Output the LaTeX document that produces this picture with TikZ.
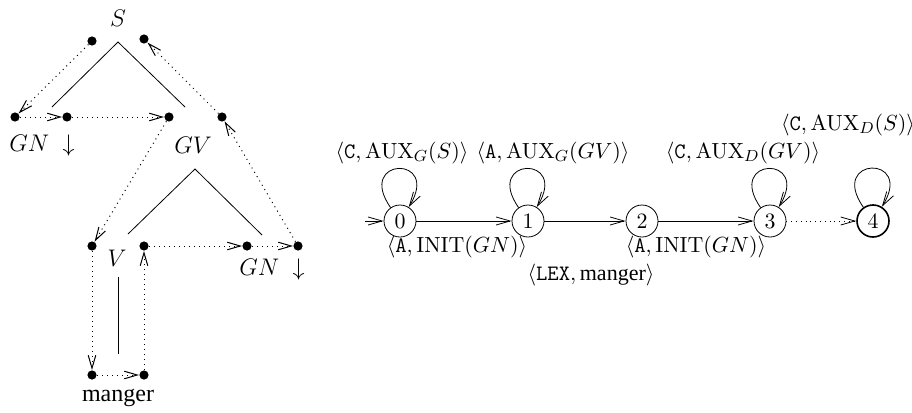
\documentclass[tikz,border=0pt]{standalone}
\usepackage[no-math]{fontspec}
\setmainfont{Liberation Serif}
\usepackage{amsmath,amssymb}
\usetikzlibrary{arrows.meta,positioning}
\tikzstyle{knot} = [circle, fill=black, inner sep=0pt, minimum size=4.6pt]
\tikzstyle{walk} = [dotted, line width=0.5pt, -{Straight Barb[length=6.5pt,width=3.8pt]}]
\tikzstyle{trans} = [-{Straight Barb[length=7pt,width=4pt]}]
\tikzstyle{etat} = [circle, draw, minimum size=16pt, inner sep=0pt]
\tikzstyle{boucle} = [out=125, in=58, distance=31pt]
\tikzstyle{arbre} = [font=\fontsize{12}{14}\selectfont]

\begin{document}
\begin{tikzpicture}[x=0.5pt, y=-0.5pt, font=\fontsize{11}{13}\selectfont]
\useasboundingbox (0,0) rectangle (912,413);

% the tree
\node[arbre] (S) at (118,18) {$S$};
\node[arbre] (GNa) at (42,145) {$GN\;\downarrow$};
\node[arbre] (GV) at (193,145) {$GV$};
\node[arbre] (V) at (117,258) {$V$};
\node[arbre] (GNb) at (272,269) {$GN\;\downarrow$};
\node[arbre] (manger) at (118,398) {manger};
\coordinate (S-b) at (118,42);
\coordinate (GNa-t) at (52,107);
\coordinate (GV-t) at (185,107);
\coordinate (GV-b) at (195,169);
\coordinate (V-t) at (128,234);
\coordinate (GNb-t) at (262,235);
\coordinate (V-b) at (118,277);
\coordinate (manger-t) at (118,354);
\draw (GNa-t) -- (S-b) -- (GV-t);
\draw (V-t) -- (GV-b) -- (GNb-t);
\draw (V-b) -- (manger-t);

% dots around each node
\node[knot] (sL) at (92,41) {};
\node[knot] (sR) at (144,39) {};
\node[knot] (gnaL) at (15,117) {};
\node[knot] (gnaR) at (67,117) {};
\node[knot] (gvL) at (169,117) {};
\node[knot] (gvR) at (222,117) {};
\node[knot] (vL) at (92,246) {};
\node[knot] (vR) at (144,246) {};
\node[knot] (gnbL) at (247,246) {};
\node[knot] (gnbR) at (298,246) {};
\node[knot] (mL) at (92,375) {};
\node[knot] (mR) at (144,375) {};

% walk round the tree
\draw[walk] (sL) -- (gnaL);
\draw[walk] (gnaL) -- (gnaR);
\draw[walk] (gnaR) -- (gvL);
\draw[walk] (gvL) -- (vL);
\draw[walk] (vL) -- (mL);
\draw[walk] (mL) -- (mR);
\draw[walk] (mR) -- (vR);
\draw[walk] (vR) -- (gnbL);
\draw[walk] (gnbL) -- (gnbR);
\draw[walk] (gnbR) -- (gvR);
\draw[walk] (gvR) -- (sR);

% the automaton
\node[etat] (q0) at (400,221) {$0$};
\node[etat] (q1) at (528,221) {$1$};
\node[etat] (q2) at (642,221) {$2$};
\node[etat] (q3) at (770,221) {$3$};
\node[etat, thick] (q4) at (873,221) {$4$};
\coordinate (start) at (365,221);

\draw[trans] (start) -- (q0);
\draw[trans] (q0) -- (q1);
\draw[trans] (q1) -- (q2);
\draw[trans] (q2) -- (q3);
\draw[trans, dotted] (q3) -- (q4);
\draw[trans] (q0) to[boucle] (q0);
\draw[trans] (q1) to[boucle] (q1);
\draw[trans] (q3) to[boucle] (q3);
\draw[trans] (q4) to[boucle] (q4);

\node (l0) at (402,153) {$\langle\texttt{C}, \mathrm{AUX}_G(S)\rangle$};
\node (l1) at (553,153) {$\langle\texttt{A}, \mathrm{AUX}_G(GV)\rangle$};
\node (l3) at (743,153) {$\langle\texttt{C}, \mathrm{AUX}_D(GV)\rangle$};
\node (l4) at (848,125) {$\langle\texttt{C}, \mathrm{AUX}_D(S)\rangle$};
\node (e01) at (457,247) {$\langle\texttt{A}, \mathrm{INIT}(GN)\rangle$};
\node (e12) at (591,275) {$\langle\texttt{LEX}, \mbox{manger}\rangle$};
\node (e23) at (696,247) {$\langle\texttt{A}, \mathrm{INIT}(GN)\rangle$};
\end{tikzpicture}
\end{document}
